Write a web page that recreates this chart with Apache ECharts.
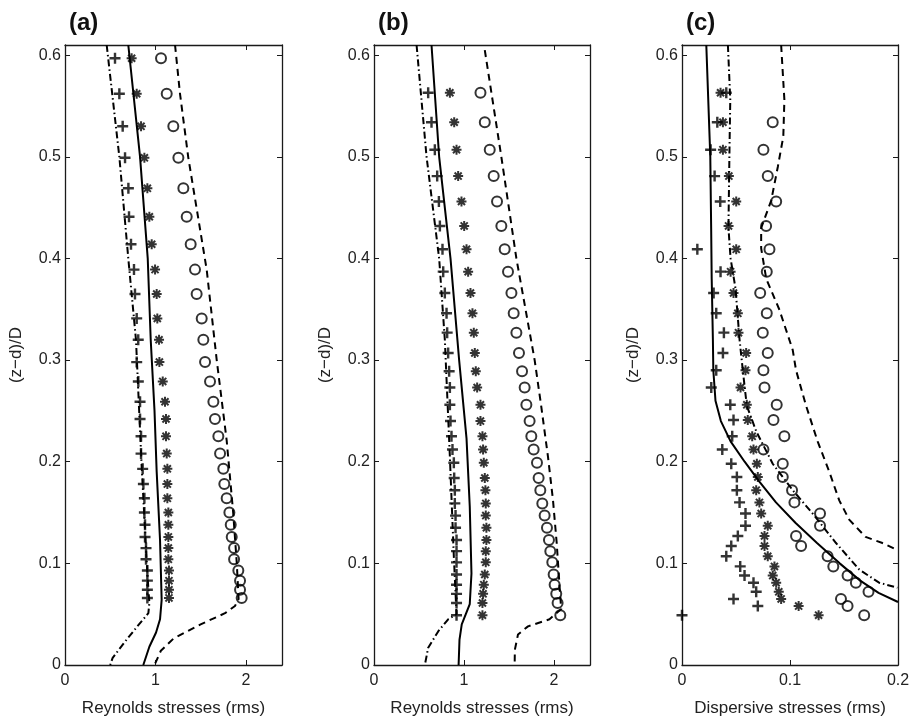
<!DOCTYPE html>
<html><head><meta charset="utf-8">
<script src="https://cdn.jsdelivr.net/npm/echarts@6/dist/echarts.min.js"></script>
<style>html,body{margin:0;padding:0;background:#fff}#c{width:916px;height:724px}</style>
</head><body><div id="c"></div>
<script>
// ---------- tick labels ----------
const yTicks = [0, 0.1, 0.2, 0.3, 0.4, 0.5, 0.6];
const yTickLabels = ['0', '0.1', '0.2', '0.3', '0.4', '0.5', '0.6'];
const xTicksRey = [0, 1, 2];
const xTickLabelsRey = ['0', '1', '2'];
const xTicksDisp = [0, 0.1, 0.2];
const xTickLabelsDisp = ['0', '0.1', '0.2'];
const panelTitles = ['(a)', '(b)', '(c)'];
const xNames = ['Reynolds stresses (rms)', 'Reynolds stresses (rms)', 'Dispersive stresses (rms)'];
const yName = '(z\u2212d)/D';

// ---------- panel (a) ----------
const zA = [0.597,0.562,0.530,0.499,0.469,0.441,0.414,0.389,0.365,0.341,0.320,0.298,0.279,0.259,0.242,0.225,0.208,0.193,0.178,0.164,0.150,0.138,0.126,0.115,0.104,0.093,0.083,0.074,0.066];
const crossA = [0.553,0.601,0.638,0.664,0.701,0.708,0.730,0.763,0.774,0.793,0.810,0.793,0.811,0.830,0.830,0.841,0.841,0.859,0.867,0.878,0.878,0.885,0.885,0.896,0.896,0.911,0.911,0.911,0.911];
const starA = [0.737,0.793,0.841,0.878,0.911,0.933,0.959,0.996,1.014,1.021,1.040,1.044,1.081,1.106,1.117,1.117,1.125,1.132,1.132,1.132,1.143,1.143,1.143,1.143,1.143,1.150,1.150,1.150,1.150];
const circA = [1.062,1.125,1.198,1.254,1.309,1.346,1.390,1.438,1.456,1.512,1.530,1.549,1.604,1.641,1.659,1.696,1.715,1.751,1.762,1.788,1.818,1.833,1.844,1.870,1.870,1.917,1.936,1.936,1.954];
const solidAy = [0.61,0.50,0.40,0.32,0.25,0.19,0.123,0.064,0.045,0.032,0.018,0];
const solidAx = [0.70,0.83,0.915,0.948,0.99,1.014,1.051,1.069,1.051,1.007,0.933,0.866];
const dashdotAy = [0.61,0.50,0.40,0.32,0.195,0.090,0.061,0.051,0.038,0.023,0.007,0];
const dashdotAx = [0.461,0.601,0.70,0.785,0.848,0.911,0.933,0.922,0.80,0.664,0.527,0.50];
const dashAy = [0.61,0.562,0.499,0.389,0.30,0.221,0.15,0.10,0.065,0.058,0.051,0.040,0.026,0.014,0];
const dashAx = [1.217,1.272,1.364,1.567,1.678,1.788,1.86,1.90,1.92,1.88,1.77,1.50,1.20,1.06,0.99];

// ---------- panel (b) ----------
const zB = [0.563,0.534,0.507,0.481,0.456,0.432,0.409,0.387,0.366,0.346,0.327,0.307,0.289,0.273,0.256,0.240,0.225,0.212,0.199,0.184,0.172,0.159,0.147,0.135,0.123,0.112,0.101,0.089,0.079,0.070,0.061,0.049];
const crossB = [0.602,0.639,0.676,0.702,0.721,0.732,0.761,0.769,0.787,0.806,0.813,0.824,0.835,0.843,0.843,0.850,0.861,0.872,0.887,0.891,0.898,0.898,0.906,0.906,0.917,0.917,0.917,0.917,0.917,0.917,0.917,0.917];
const starB = [0.843,0.891,0.917,0.935,0.972,1.002,1.028,1.046,1.072,1.094,1.109,1.120,1.131,1.146,1.183,1.183,1.205,1.212,1.220,1.231,1.238,1.242,1.242,1.249,1.249,1.242,1.242,1.231,1.220,1.212,1.205,1.205];
const circB = [1.183,1.231,1.286,1.330,1.367,1.415,1.452,1.489,1.527,1.552,1.582,1.611,1.645,1.674,1.693,1.729,1.748,1.774,1.811,1.829,1.848,1.870,1.896,1.922,1.944,1.959,1.981,1.996,2.007,2.025,2.040,2.070];
const solidBy = [0.61,0.50,0.40,0.30,0.223,0.156,0.09,0.06,0.05,0.04,0.025,0];
const solidBx = [0.639,0.724,0.850,0.946,1.028,1.064,1.083,1.064,1.02,0.975,0.95,0.94];
const dashdotBy = [0.61,0.50,0.40,0.32,0.205,0.107,0.05,0.045,0.033,0.017,0];
const dashdotBx = [0.473,0.584,0.724,0.787,0.843,0.887,0.917,0.824,0.713,0.602,0.565];
const dashBy = [0.605,0.50,0.40,0.30,0.254,0.205,0.162,0.12,0.08,0.055,0.045,0.038,0.03,0.015,0];
const dashBx = [1.231,1.415,1.582,1.785,1.859,1.933,1.989,2.03,2.06,2.08,1.95,1.711,1.60,1.565,1.563];

// ---------- panel (c) ----------
const zC = [0.563,0.534,0.507,0.481,0.456,0.432,0.409,0.387,0.366,0.346,0.327,0.307,0.290,0.273,0.256,0.241,0.225,0.212,0.198,0.185,0.172,0.160,0.149,0.137,0.127,0.117,0.107,0.097,0.088,0.081,0.072,0.065,0.058,0.049];
const crossC = [0.041,0.0327,0.0265,0.0302,0.0354,null,0.0142,0.0357,0.0293,0.0317,0.0388,0.0379,0.0317,0.0271,0.0447,0.0477,0.0465,0.0373,0.0456,0.0508,0.0508,0.0533,0.0588,0.0588,0.0517,0.0456,0.0410,0.0539,0.0579,0.0662,0.0687,0.0477,0.0702,0.0];
const starC = [0.0357,0.0379,0.0379,0.0434,0.0502,0.0431,0.0502,0.045,0.0477,0.0517,0.0523,0.0594,0.0588,0.0542,0.0600,0.0609,0.0650,0.0662,0.0693,0.0702,0.0687,0.0717,0.0733,0.0794,0.0764,0.0764,0.0794,0.0856,0.0840,0.0872,0.0896,0.0918,0.1080,0.1265];
const circC = [null,0.0840,0.0754,0.0794,0.0872,0.0779,0.0810,0.0785,0.0724,0.0785,0.0748,0.0794,0.0754,0.0764,0.0877,0.0847,0.0948,0.0754,0.0933,0.0933,0.1019,0.1041,0.1278,0.1278,0.1056,0.1103,0.1348,0.1401,0.1533,0.1610,0.1727,0.1472,0.1533,0.1687];
const solidCy = [0.61,0.50,0.43,0.38,0.32,0.29,0.26,0.24,0.22,0.20,0.18,0.16,0.14,0.12,0.10,0.083,0.071,0.062];
const solidCx = [0.0225,0.0262,0.027,0.0275,0.0286,0.029,0.031,0.036,0.045,0.058,0.072,0.087,0.105,0.125,0.146,0.165,0.182,0.20];
const dashdotCy = [0.61,0.556,0.51,0.43,0.40,0.37,0.32,0.29,0.255,0.23,0.198,0.172,0.149,0.12,0.094,0.081,0.076];
const dashdotCx = [0.0425,0.0447,0.044,0.043,0.045,0.0496,0.0533,0.0563,0.060,0.0687,0.084,0.1025,0.121,0.1426,0.164,0.1825,0.1994];
const dashCy = [0.61,0.556,0.52,0.49,0.457,0.43,0.41,0.38,0.35,0.31,0.29,0.255,0.22,0.19,0.162,0.143,0.126,0.12,0.113];
const dashCx = [0.0918,0.0948,0.0938,0.0887,0.0826,0.0733,0.0733,0.078,0.090,0.1025,0.1056,0.1149,0.1256,0.1364,0.1456,0.1548,0.170,0.1856,0.1994];

// ---------- build ----------
const FONT = '"Liberation Sans", Arial, Helvetica, sans-serif';
const INK = '#1a1a1a';
const PLUS = 'path://M3.9,0H6.1V3.9H10V6.1H6.1V10H3.9V6.1H0V3.9H3.9Z';
const STAR = 'path://M0,8H20V12H0Z M8,0H12V20H8Z M4.34,1.52L18.48,15.66L15.66,18.48L1.52,4.34Z M15.66,1.52L18.48,4.34L4.34,18.48L1.52,15.66Z';

function pairs(xs, ys) {
  const out = [];
  for (let i = 0; i < xs.length; i++) if (xs[i] !== null) out.push([xs[i], ys[i]]);
  return out;
}
function lookup(ticks, labels) {
  return v => { let k = 0, d = Infinity; ticks.forEach((t, i) => { const e = Math.abs(t - v); if (e < d) { d = e; k = i; } }); return labels[k]; };
}

const grids = [
  { left: 65, top: 45, width: 217, height: 620 },
  { left: 374, top: 45, width: 216, height: 620 },
  { left: 682, top: 45, width: 216, height: 620 }
];
const xMax = [2.4, 2.4, 0.2];
const xT = [xTicksRey, xTicksRey, xTicksDisp];
const xL = [xTickLabelsRey, xTickLabelsRey, xTickLabelsDisp];

const xAxes = [], yAxes = [];
const axLine = { show: true, onZero: false, lineStyle: { color: INK, width: 1.3 } };
for (let i = 0; i < 3; i++) {
  xAxes.push({
    gridIndex: i, type: 'value', min: 0, max: xMax[i], position: 'bottom',
    axisLine: axLine,
    axisTick: { show: true, inside: true, length: 5, customValues: xT[i], lineStyle: { color: INK, width: 1 } },
    axisLabel: { customValues: xT[i], formatter: lookup(xT[i], xL[i]), fontSize: 16, color: '#222', fontFamily: FONT, margin: 8 },
    splitLine: { show: false },
    name: xNames[i], nameLocation: 'middle', nameGap: 35,
    nameTextStyle: { fontSize: 17, color: '#222', fontFamily: FONT }
  });
  xAxes.push({
    gridIndex: i, type: 'value', min: 0, max: xMax[i], position: 'top',
    axisLine: axLine,
    axisTick: { show: true, inside: true, length: 5, customValues: xT[i], lineStyle: { color: INK, width: 1 } },
    axisLabel: { show: false }, splitLine: { show: false }
  });
  yAxes.push({
    gridIndex: i, type: 'value', min: 0, max: 0.61, position: 'left',
    axisLine: axLine,
    axisTick: { show: true, inside: true, length: 5, customValues: yTicks, lineStyle: { color: INK, width: 1 } },
    axisLabel: { customValues: yTicks, formatter: lookup(yTicks, yTickLabels), fontSize: 16, color: '#222', fontFamily: FONT, margin: 4 },
    splitLine: { show: false },
    name: yName, nameLocation: 'middle', nameGap: 40,
    nameTextStyle: { fontSize: 17, color: '#222', fontFamily: FONT }
  });
  yAxes.push({
    gridIndex: i, type: 'value', min: 0, max: 0.61, position: 'right',
    axisLine: axLine,
    axisTick: { show: true, inside: true, length: 5, customValues: yTicks, lineStyle: { color: INK, width: 1 } },
    axisLabel: { show: false }, splitLine: { show: false }
  });
}

const panels = [
  { z: zA, cross: crossA, star: starA, circ: circA, sol: [solidAx, solidAy], dd: [dashdotAx, dashdotAy], da: [dashAx, dashAy] },
  { z: zB, cross: crossB, star: starB, circ: circB, sol: [solidBx, solidBy], dd: [dashdotBx, dashdotBy], da: [dashBx, dashBy] },
  { z: zC, cross: crossC, star: starC, circ: circC, sol: [solidCx, solidCy], dd: [dashdotCx, dashdotCy], da: [dashCx, dashCy] }
];
const series = [];
panels.forEach((p, i) => {
  const ax = { xAxisIndex: 2 * i, yAxisIndex: 2 * i };
  const line = (d, type) => Object.assign({
    type: 'line', data: pairs(d[0], d[1]), showSymbol: false, symbol: 'none', silent: true, clip: true,
    lineStyle: { color: '#000', width: 2, type: type }
  }, ax);
  series.push(line(p.sol, 'solid'));
  series.push(line(p.dd, [7, 3, 1.5, 3]));
  series.push(line(p.da, [7, 5]));
  series.push(Object.assign({ type: 'scatter', data: pairs(p.cross, p.z), symbol: PLUS, symbolSize: 11, itemStyle: { color: '#000' }, silent: true }, ax));
  series.push(Object.assign({ type: 'scatter', data: pairs(p.star, p.z), symbol: STAR, symbolSize: 10, itemStyle: { color: '#000' }, silent: true }, ax));
  series.push(Object.assign({ type: 'scatter', data: pairs(p.circ, p.z), symbol: 'circle', symbolSize: 10, itemStyle: { color: 'rgba(0,0,0,0)', borderColor: '#000', borderWidth: 2 }, silent: true }, ax));
});

const titles = panelTitles.map((t, i) => ({
  text: t, left: grids[i].left - 1, top: 6,
  textStyle: { fontSize: 24, fontWeight: 'bold', color: '#111', fontFamily: FONT }
}));

const chart = echarts.init(document.getElementById('c'), null, { renderer: 'canvas' });
chart.setOption({
  backgroundColor: '#fff',
  animation: false,
  title: titles,
  grid: grids,
  xAxis: xAxes,
  yAxis: yAxes,
  series: series
});
</script></body></html>
